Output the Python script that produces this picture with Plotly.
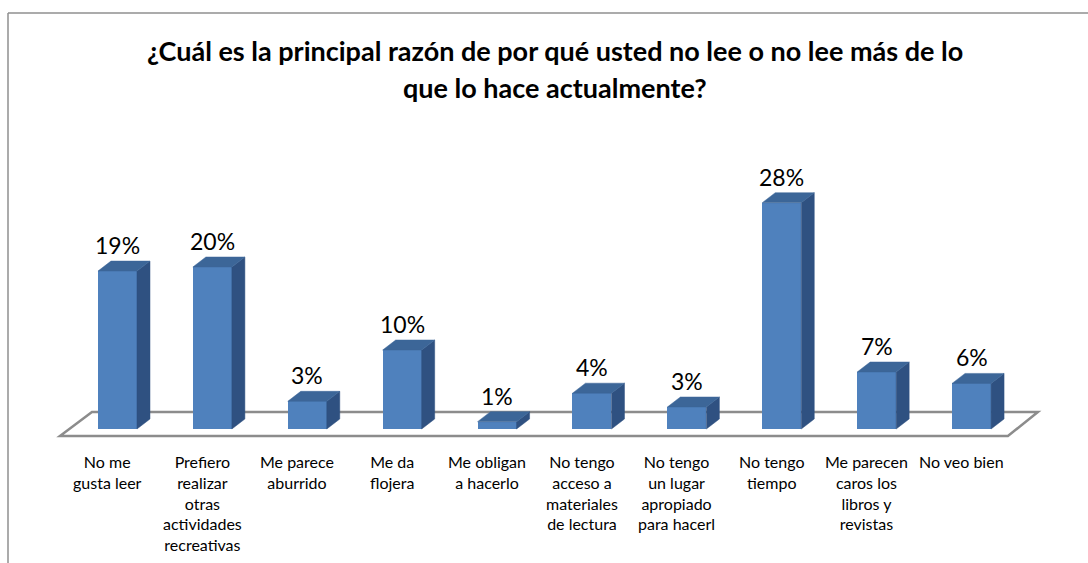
import plotly.graph_objects as go

# ---- data ----
categories = [
    "No me\ngusta leer",
    "Prefiero\nrealizar\notras\nactividades\nrecreativas",
    "Me parece\naburrido",
    "Me da\nflojera",
    "Me obligan\na hacerlo",
    "No tengo\nacceso a\nmateriales\nde lectura",
    "No tengo\nun lugar\napropiado\npara hacerl",
    "No tengo\ntiempo",
    "Me parecen\ncaros los\nlibros y\nrevistas",
    "No veo bien",
]
values = [19.4, 19.9, 3.4, 9.7, 0.9, 4.4, 2.7, 27.8, 7.0, 5.6]
value_labels = [f"{v:.0f}%" for v in values]
title_lines = [
    "¿Cuál es la principal razón de por qué usted no lee o no lee más de lo",
    "que lo hace actualmente?",
]

# ---- style / geometry ----
W, H = 1088, 563
FRONT = "#4F81BD"
TOP = "#3C6698"
SIDE = "#2F5181"
BAR_W = 0.411
DX = 0.137   # depth offset in x units
DY = 1.23    # depth offset in y units
FONT = "Lato"
X_RANGE = [-1.238, 10.227]
Y_RANGE = [-16.46, 52.70]

xs = list(range(len(values)))

fig = go.Figure()

# front faces
fig.add_trace(go.Bar(
    x=xs, y=values, width=BAR_W, marker=dict(color=FRONT, line=dict(width=0)),
    hoverinfo="skip", showlegend=False,
))

# side and top faces, derived from the values
sx, sy, tx, ty = [], [], [], []
for x, v in zip(xs, values):
    r = x + BAR_W / 2
    l = x - BAR_W / 2
    sx += [r, r + DX, r + DX, r, r, None]
    sy += [0, DY, v + DY, v, 0, None]
    tx += [l, r, r + DX, l + DX, l, None]
    ty += [v, v, v + DY, v + DY, v, None]
fig.add_trace(go.Scatter(x=sx, y=sy, fill="toself", fillcolor=SIDE, mode="lines",
                         line=dict(color=SIDE, width=0.5), hoverinfo="skip", showlegend=False))
fig.add_trace(go.Scatter(x=tx, y=ty, fill="toself", fillcolor=TOP, mode="lines",
                         line=dict(color=TOP, width=0.5), hoverinfo="skip", showlegend=False))

# floor (3-D base plane)
fl_front, fl_back = -0.86, 2.09
fl_x0f, fl_x0b, fl_x1b, fl_x1f = -0.606, -0.269, 9.699, 9.383
fig.add_shape(type="path", xref="x", yref="y", layer="below",
              path=f"M {fl_x0f},{fl_front} L {fl_x0b},{fl_back} L {fl_x1b},{fl_back} L {fl_x1f},{fl_front} Z",
              line=dict(color="#8C8C8C", width=2.5), fillcolor="white")

# value labels
for x, v, t in zip(xs, values, value_labels):
    fig.add_annotation(x=x, y=v + DY, text=t, showarrow=False, yshift=16,
                       yanchor="middle", font=dict(family=FONT, size=23, color="black"))

# category labels
for x, c in zip(xs, categories):
    fig.add_annotation(x=x, xref="x", y=1 - 450 / H, yref="paper", yanchor="top",
                       xshift=-10, text=c.replace("\n", "<br>"), showarrow=False,
                       align="center", font=dict(family=FONT, size=16, color="black"))

# title
for yc, line in zip([50, 87], title_lines):
    fig.add_annotation(x=555 / W, xref="paper", y=1 - yc / H, yref="paper",
                       yanchor="middle", text=f"<b>{line}</b>", showarrow=False,
                       font=dict(family=FONT, size=27, color="black"))

# chart-area border (top and left visible)
fig.add_shape(type="line", xref="paper", yref="paper", x0=8 / W, x1=1, y0=1 - 13 / H, y1=1 - 13 / H,
              line=dict(color="#8F8F8F", width=1.5))
fig.add_shape(type="line", xref="paper", yref="paper", x0=8 / W, x1=8 / W, y0=1 - 13 / H, y1=0,
              line=dict(color="#8F8F8F", width=1.5))

fig.update_layout(
    width=W, height=H, margin=dict(l=0, r=0, t=0, b=0),
    paper_bgcolor="white", plot_bgcolor="white",
    xaxis=dict(range=X_RANGE, visible=False, fixedrange=True),
    yaxis=dict(range=Y_RANGE, visible=False, fixedrange=True),
    showlegend=False, bargap=0,
)

fig.write_html("out.html")
